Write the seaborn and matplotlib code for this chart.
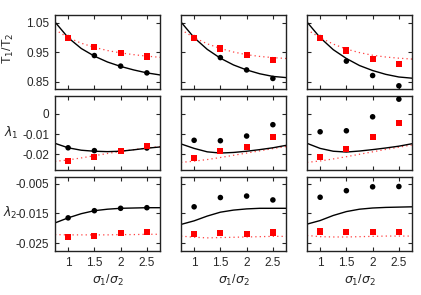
"""Ratio T1/T2 and the lambda coefficients versus sigma1/sigma2, 3x3 panel grid."""

import matplotlib
matplotlib.use("Agg")
import matplotlib.pyplot as plt
import seaborn as sns

sns.set_theme(style="ticks")
plt.rcParams["font.family"] = ["Liberation Sans", "DejaVu Sans"]

# x positions of the simulated points and of the model curves
X_PTS = [1.0, 1.5, 2.0, 2.5]
X_CURVE = [0.75, 1.0, 1.25, 1.5, 1.75, 2.0, 2.25, 2.5, 2.75]

X_TICKS = [1.0, 1.5, 2.0, 2.5]
X_TICK_LABELS = ["1", "1.5", "2", "2.5"]

# row 1: T1/T2
T_BLACK_PTS = [[1.0, 0.939, 0.903, 0.880],
               [1.0, 0.932, 0.890, 0.861],
               [1.0, 0.920, 0.871, 0.836]]
T_RED_PTS = [[1.0, 0.967, 0.947, 0.936],
             [1.0, 0.963, 0.941, 0.924],
             [1.0, 0.956, 0.928, 0.910]]
T_BLACK_CURVE = [[1.053, 1.0, 0.963, 0.937, 0.917, 0.902, 0.890, 0.880, 0.873],
                 [1.053, 1.0, 0.960, 0.930, 0.907, 0.890, 0.877, 0.868, 0.864],
                 [1.053, 1.0, 0.959, 0.929, 0.905, 0.888, 0.875, 0.866, 0.862]]
T_RED_CURVE = [[1.027, 1.0, 0.981, 0.967, 0.956, 0.948, 0.942, 0.937, 0.933],
               [1.027, 1.0, 0.979, 0.963, 0.951, 0.942, 0.936, 0.932, 0.929],
               [1.027, 1.0, 0.978, 0.961, 0.949, 0.940, 0.934, 0.930, 0.927]]
T_TICKS = [0.85, 0.95, 1.05]
T_TICK_LABELS = ["0.85", "0.95", "1.05"]

# row 2: lambda_1
L1_BLACK_PTS = [[-0.0168, -0.0182, -0.0184, -0.0169],
                [-0.0131, -0.0133, -0.0110, -0.0054],
                [-0.0089, -0.0084, -0.0015, 0.0072]]
L1_RED_PTS = [[-0.0232, -0.0212, -0.0184, -0.0161],
              [-0.0220, -0.0185, -0.0164, -0.0115],
              [-0.0212, -0.0174, -0.0116, -0.0047]]
L1_BLACK_CURVE = [[-0.0146, -0.0168, -0.0180, -0.0185, -0.0187, -0.0185, -0.0178, -0.0170, -0.0164],
                  [-0.0149, -0.0171, -0.0188, -0.0194, -0.0191, -0.0185, -0.0177, -0.0168, -0.0156],
                  [-0.0146, -0.0171, -0.0185, -0.0189, -0.0184, -0.0177, -0.0169, -0.0160, -0.0148]]
L1_RED_CURVE = [[-0.0235, -0.0228, -0.0218, -0.0207, -0.0196, -0.0186, -0.0177, -0.0169, -0.0162],
                [-0.0240, -0.0234, -0.0226, -0.0216, -0.0205, -0.0194, -0.0183, -0.0172, -0.0162],
                [-0.0240, -0.0233, -0.0223, -0.0212, -0.0200, -0.0188, -0.0176, -0.0165, -0.0154]]
L1_TICKS = [-0.02, -0.01, 0.0]
L1_TICK_LABELS = ["-0.02", "-0.01", "0"]

# row 3: lambda_2
L2_BLACK_PTS = [[-0.0165, -0.0141, -0.0133, -0.0131],
                [-0.0128, -0.0097, -0.0092, -0.0105],
                [-0.0096, -0.0074, -0.0061, -0.0060]]
L2_RED_PTS = [[-0.0228, -0.0225, -0.0216, -0.0212],
              [-0.0218, -0.0217, -0.0219, -0.0214],
              [-0.0211, -0.0212, -0.0212, -0.0212]]
L2_BLACK_CURVE = [[-0.0182, -0.0165, -0.0151, -0.0141, -0.0136, -0.0133, -0.0132, -0.0131, -0.0131],
                  [-0.0187, -0.0175, -0.0159, -0.0146, -0.0139, -0.0135, -0.0133, -0.0133, -0.0133],
                  [-0.0186, -0.0174, -0.0157, -0.0144, -0.0136, -0.0132, -0.0130, -0.0129, -0.0128]]
L2_RED_CURVE = [[-0.0221, -0.0222, -0.0222, -0.0222, -0.0222, -0.0221, -0.0221, -0.0220, -0.0220],
                [-0.0226, -0.0230, -0.0232, -0.0231, -0.0230, -0.0229, -0.0228, -0.0227, -0.0227],
                [-0.0224, -0.0228, -0.0229, -0.0229, -0.0228, -0.0227, -0.0226, -0.0226, -0.0226]]
L2_TICKS = [-0.025, -0.015, -0.005]
L2_TICK_LABELS = ["-0.025", "-0.015", "-0.005"]

ROWS = [
    (T_BLACK_PTS, T_RED_PTS, T_BLACK_CURVE, T_RED_CURVE, T_TICKS, T_TICK_LABELS, (0.826, 1.077)),
    (L1_BLACK_PTS, L1_RED_PTS, L1_BLACK_CURVE, L1_RED_CURVE, L1_TICKS, L1_TICK_LABELS, (-0.0277, 0.0087)),
    (L2_BLACK_PTS, L2_RED_PTS, L2_BLACK_CURVE, L2_RED_CURVE, L2_TICKS, L2_TICK_LABELS, (-0.0276, -0.0029)),
]
Y_LABELS = [r"T$_1$/T$_2$", r"$\lambda_1$", r"$\lambda_2$"]
# label anchor (axes fraction) and rotation per row
Y_LABEL_POS = [(-0.44, 0.55, 90), (-0.42, 0.50, 0), (-0.43, 0.52, 0)]

fig, axes = plt.subplots(3, 3, figsize=(4.21, 2.95), dpi=100)
fig.subplots_adjust(left=55 / 421, right=412 / 421, top=1 - 15 / 295,
                    bottom=1 - 251 / 295, wspace=0.2, hspace=0.1)

for r, (bpts, rpts, bcur, rcur, yticks, ylabels, ylim) in enumerate(ROWS):
    for c in range(3):
        ax = axes[r, c]
        sns.lineplot(x=X_CURVE, y=rcur[c], ax=ax, color="#ff4040", lw=0.9,
                     linestyle=(0, (1, 2.5)), sort=False)
        sns.lineplot(x=X_CURVE, y=bcur[c], ax=ax, color="black", lw=1.0, sort=False)
        sns.scatterplot(x=X_PTS, y=bpts[c], ax=ax, color="black", marker="o",
                        s=16, edgecolor="none", zorder=3)
        sns.scatterplot(x=X_PTS, y=rpts[c], ax=ax, color="#ff0000", marker="s",
                        s=20, edgecolor="none", zorder=4)
        ax.set_xlim(0.75, 2.75)
        ax.set_ylim(*ylim)
        ax.set_xticks(X_TICKS)
        ax.set_yticks(yticks)
        ax.tick_params(direction="in", top=True, right=True, length=3,
                       width=0.8, labelsize=8.5, pad=4)
        for sp in ax.spines.values():
            sp.set_linewidth(1.0)
            sp.set_color("#222222")
        if c == 0:
            ax.set_yticklabels(ylabels)
            lx, ly, rot = Y_LABEL_POS[r]
            ax.set_ylabel(Y_LABELS[r], fontsize=9, rotation=rot,
                          ha="center", va="center")
            ax.yaxis.set_label_coords(lx, ly)
        else:
            ax.set_yticklabels([])
            ax.set_ylabel("")
        if r == 2:
            ax.set_xticklabels(X_TICK_LABELS)
            ax.set_xlabel(r"$\sigma_1$/$\sigma_2$", fontsize=9, labelpad=3)
        else:
            ax.set_xticklabels([])
            ax.set_xlabel("")

fig.savefig("out.png", dpi=100)
